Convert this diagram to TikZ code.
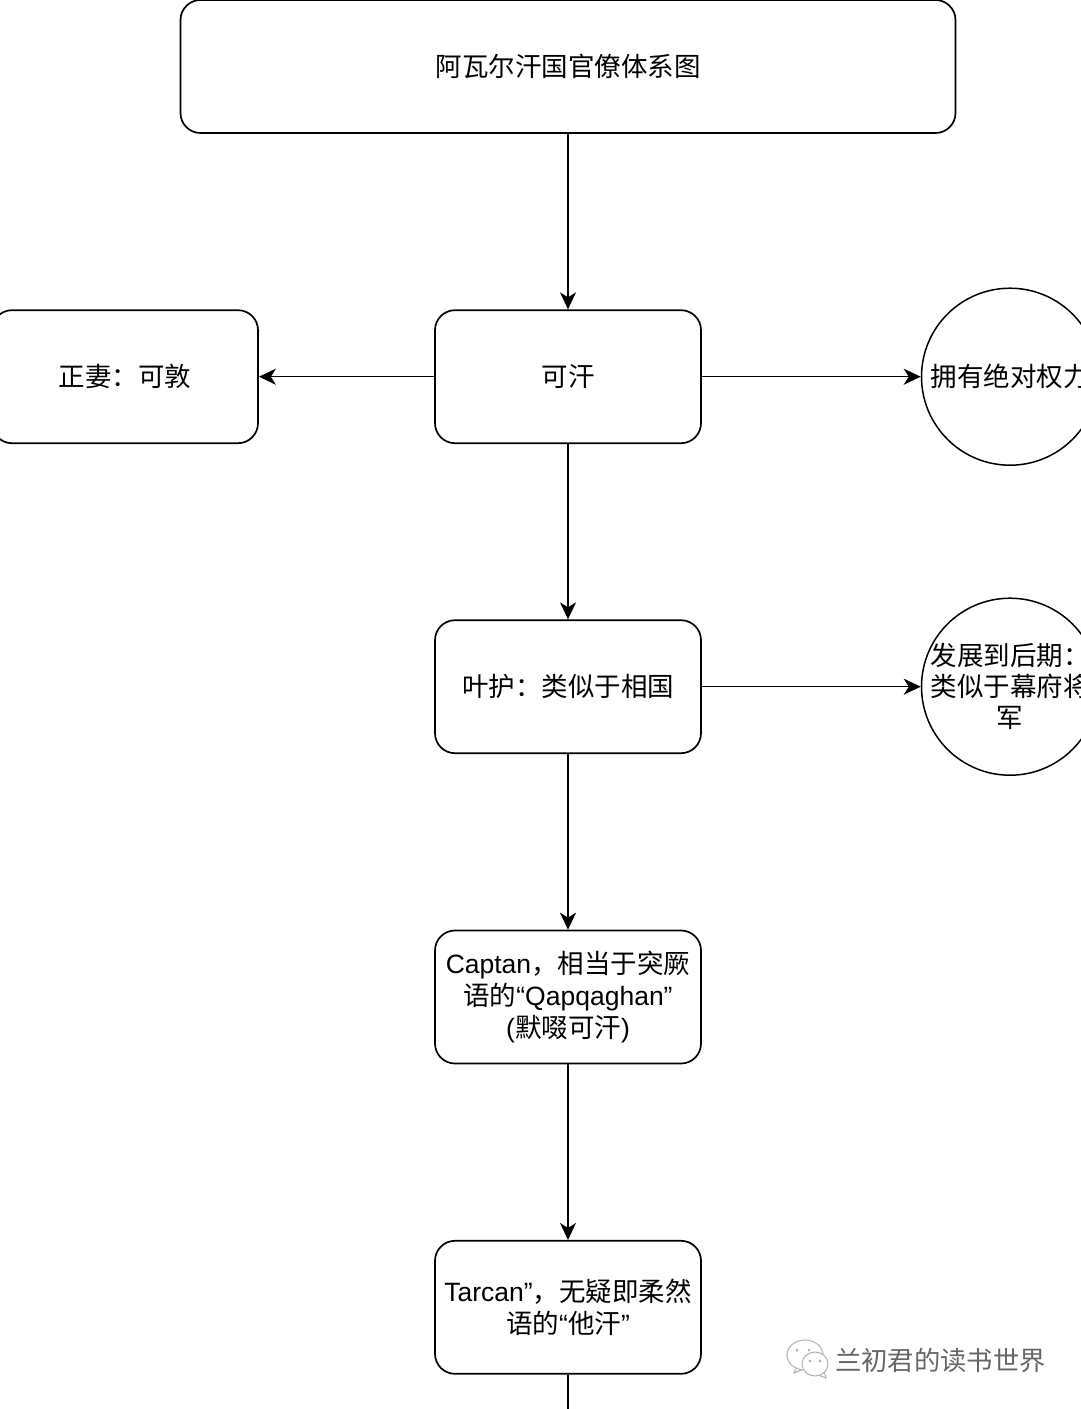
\documentclass[tikz,border=0pt]{standalone}
\usepackage{fontspec}
\setmainfont{Liberation Sans}
\newfontfamily\cjk{Noto Sans CJK SC}
\newcommand{\lat}[1]{{\rmfamily #1}}
\newcommand{\lift}[1]{\raisebox{1.5pt}{#1}}
\usetikzlibrary{arrows.meta,shapes.geometric}
\tikzset{
    box/.style={draw, line width=1.7pt, rounded corners=20pt, align=center, font=\cjk\fontsize{26.5pt}{32pt}\selectfont, inner sep=0pt, minimum width=266pt, minimum height=133pt},
    round/.style={draw, line width=1.5pt, circle, minimum size=177pt, inner sep=-12pt, align=center, font=\cjk\fontsize{26.5pt}{31pt}\selectfont},
    link/.style={draw, line width=1.5pt, -{Stealth[length=17pt,width=16pt,inset=5pt]}},
    bubble/.style={draw=black!30, line width=1pt, ellipse, fill=white, inner sep=0pt},
    eye/.style={circle, fill=black!30, minimum size=3pt, inner sep=0pt}
}
\begin{document}
\begin{tikzpicture}[x=1pt, y=-1pt]
    \useasboundingbox (0,0) rectangle (1080,1409);
    \node[box, minimum width=775pt] (title) at (568,66.5) {\lift{阿瓦尔汗国官僚体系图}};
    \node[box] (khagan) at (568,376.7) {\lift{可汗}};
    \node[box] (wife) at (125,376.7) {\lift{正妻：可敦}};
    \node[round] (power) at (1010,376.7) {拥有绝对权力};
    \node[box] (yehu) at (568,686.7) {\lift{叶护：类似于相国}};
    \node[round] (shogun) at (1010,686.7) {发展到后期：\\类似于幕府将\\军};
    \node[box] (captan) at (568,997) {\lat{Captan}，相当于突厥\\语的\lat{“Qapqaghan”}\\\lat{(}默啜可汗\lat{)}};
    \node[box] (tarcan) at (568,1307.3) {\lift{\lat{Tarcan”}，无疑即柔然}\\\lift{语的\lat{“}他汗\lat{”}}};
    \coordinate (down) at (568,1409);

    \path[link] (title) -- (khagan);
    \path[link] (khagan) -- (wife);
    \path[link] (khagan) -- (power);
    \path[link] (khagan) -- (yehu);
    \path[link] (yehu) -- (shogun);
    \path[link] (yehu) -- (captan);
    \path[link] (captan) -- (tarcan);
    \draw[line width=1.5pt] (tarcan) -- (down);

    % watermark
    \draw[black!30, line width=1pt] (797,1367) -- (794,1373) -- (804,1369);
    \node[bubble, minimum width=36pt, minimum height=30pt] (bubbleback) at (805,1355) {};
    \draw[black!30, line width=1pt] (824,1371) -- (826,1378) -- (816,1374);
    \node[bubble, minimum width=26pt, minimum height=24pt] (bubblefront) at (815,1364) {};
    \node[eye] (eyea) at (797,1350) {};
    \node[eye] (eyeb) at (809,1350) {};
    \node[eye] (eyec) at (810,1361) {};
    \node[eye] (eyed) at (820,1361) {};
    \node[font=\cjk\fontsize{26.3pt}{30pt}\selectfont, text=black!60, anchor=west, inner sep=0pt] (mark) at (835,1361) {兰初君的读书世界};
\end{tikzpicture}
\end{document}
